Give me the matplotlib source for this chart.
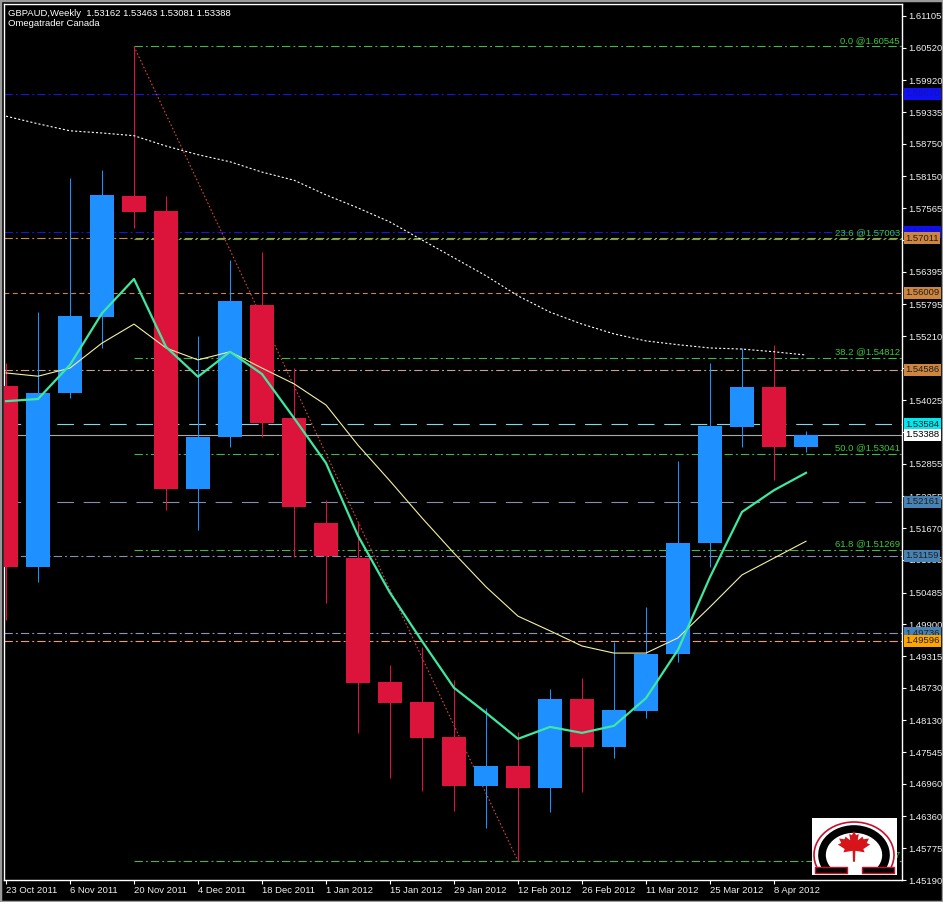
import matplotlib
matplotlib.use("Agg")
import matplotlib.pyplot as plt
import matplotlib.transforms as mtrans
from matplotlib.patches import Rectangle, Arc, Polygon

plt.rcParams['font.family'] = ['Liberation Sans', 'DejaVu Sans']
plt.rcParams['lines.scale_dashes'] = False

# weekly GBPAUD bars, 23 Oct 2011 .. 8 Apr 2012 + current week
date_labels = ["23 Oct 2011", "6 Nov 2011", "20 Nov 2011", "4 Dec 2011", "18 Dec 2011",
               "1 Jan 2012", "15 Jan 2012", "29 Jan 2012", "12 Feb 2012", "26 Feb 2012",
               "11 Mar 2012", "25 Mar 2012", "8 Apr 2012"]
opens = [1.5429, 1.5096, 1.5416, 1.5556, 1.5779, 1.5751, 1.5239, 1.5335, 1.5578, 1.5370,
         1.5177, 1.5112, 1.4884, 1.4847, 1.4782, 1.4692, 1.4729, 1.4689, 1.4852, 1.4764,
         1.4830, 1.4935, 1.5140, 1.5353, 1.5427, 1.53162]
highs = [1.5471, 1.5565, 1.5812, 1.5827, 1.60545, 1.5779, 1.5521, 1.5661, 1.5676, 1.5462,
         1.5219, 1.5178, 1.4915, 1.4948, 1.4887, 1.4836, 1.4792, 1.4871, 1.4891, 1.4957,
         1.5022, 1.5291, 1.5471, 1.5499, 1.5505, 1.53463]
lows = [1.4998, 1.5068, 1.5407, 1.5499, 1.5720, 1.5201, 1.5164, 1.5317, 1.5335, 1.5114,
        1.5029, 1.4790, 1.4707, 1.4683, 1.4646, 1.4615, 1.45537, 1.4644, 1.4681, 1.4744,
        1.4817, 1.4921, 1.5096, 1.5317, 1.5256, 1.53081]
closes = [1.5096, 1.5416, 1.5558, 1.5781, 1.5750, 1.5239, 1.5335, 1.5586, 1.5361, 1.5206,
          1.5116, 1.4882, 1.4845, 1.4781, 1.4692, 1.4729, 1.4689, 1.4852, 1.4764, 1.4832,
          1.4935, 1.5140, 1.5355, 1.5427, 1.5316, 1.53388]

ma_fast = [1.5401, 1.5405, 1.5468, 1.5563, 1.5626, 1.5501, 1.5446, 1.5492, 1.5451, 1.5370,
           1.5287, 1.5153, 1.5048, 1.4959, 1.4873, 1.4827, 1.4779, 1.4801, 1.4790, 1.4803,
           1.4854, 1.4943, 1.5077, 1.5197, 1.5237, 1.5269]
ma_mid = [1.5453, 1.5447, 1.5462, 1.5508, 1.5543, 1.5499, 1.5477, 1.5492, 1.5462, 1.5433,
          1.5394, 1.5320, 1.5254, 1.5186, 1.5121, 1.5059, 1.5005, 1.4978, 1.4950, 1.4937,
          1.4937, 1.4965, 1.5022, 1.5081, 1.5112, 1.5143]
ma_long = [1.5926, 1.5912, 1.5899, 1.5895, 1.5890, 1.5871, 1.5855, 1.5842, 1.5823, 1.5808,
           1.5781, 1.5757, 1.5731, 1.5698, 1.5665, 1.5632, 1.5595, 1.5565, 1.5543, 1.5525,
           1.5512, 1.5505, 1.5499, 1.5497, 1.5492, 1.5486]

fib_names = ["0.0", "23.6", "38.2", "50.0", "61.8", "100.0"]
fib_prices = [1.60545, 1.57003, 1.54812, 1.53041, 1.51269, 1.45537]

price_ticks = [1.61105, 1.60520, 1.59920, 1.59335, 1.58750, 1.58150, 1.57565, 1.56980,
               1.56395, 1.55795, 1.55210, 1.54625, 1.54025, 1.53440, 1.52855, 1.52255,
               1.51670, 1.51085, 1.50485, 1.49900, 1.49315, 1.48730, 1.48130, 1.47545,
               1.46960, 1.46360, 1.45775, 1.45190]
# tick labels fully covered by price boxes in the terminal
hidden_ticks = [1.56980, 1.54625, 1.53440]

level_prices = [1.59670, 1.57130, 1.57011, 1.56009, 1.54586, 1.53584, 1.53388,
                1.52161, 1.51159, 1.49736, 1.49596]
level_texts = ["1.59670", "1.57130", "1.57011", "1.56009", "1.54586", "1.53584", "1.53388",
               "1.52161", "1.51159", "1.49736", "1.49596"]

# line colour, dash pattern, label box colour, label text colour
dd = (6, 2.2, 1.4, 2.2)
level_styles = [
    ('#1515e0', dd, '#1010f0', '#1010c0'),
    ('#1515e0', dd, '#1010f0', '#1010c0'),
    ('#c98a52', dd, '#cd853f', '#202020'),
    ('#cd853f', (3.5, 2.5), '#cd853f', '#202020'),
    ('#c9a28c', dd, '#cd853f', '#202020'),
    ('#7fd8e8', (12, 7), '#00e8f0', '#202020'),
    ('#a8a8a8', None, '#ffffff', '#000000'),
    ('#8090b0', (12, 7), '#4682b4', '#202020'),
    ('#8090b0', dd, '#4682b4', '#202020'),
    ('#8898b8', dd, '#4682b4', '#202020'),
    ('#f0a050', dd, '#ffa500', '#202020'),
]

W, H = 943, 902
fig = plt.figure(figsize=(W / 100, H / 100), dpi=100, facecolor='black')
ax = fig.add_axes([4 / W, 22 / H, 898 / W, 876 / H], facecolor='black')

n = len(opens)
xs = list(range(n))
ax.set_xlim(-0.0625, 28)
ax.set_ylim(1.45208, 1.61326)

# horizontal levels
for p, (lc, dash, bc, tc), t in zip(level_prices, level_styles, level_texts):
    if dash is None:
        ax.axhline(p, color=lc, lw=0.8, zorder=1)
    else:
        ax.axhline(p, color=lc, lw=0.8, dashes=dash, zorder=1)

trans_lbl = mtrans.blended_transform_factory(ax.transAxes, ax.transData)
for p, (lc, dash, bc, tc), t in zip(level_prices, level_styles, level_texts):
    ax.text(1.0035, p, t, transform=trans_lbl, ha='left', va='center', fontsize=6.8,
            color=tc, clip_on=False, zorder=5,
            bbox=dict(boxstyle='square,pad=0.16', fc=bc, ec='none'))

# fibonacci retracement
fib_color = '#3cc83c'
for name, p in zip(fib_names, fib_prices):
    ax.plot([4, 28], [p, p], color='#44b844', lw=0.8, dashes=dd, zorder=1)
    ax.text(0.9975, p + 0.0003, "%s @%.5f" % (name, p), transform=trans_lbl,
            ha='right', va='bottom', fontsize=6.8, color=fib_color, zorder=4)
ax.plot([4, 16], [highs[4], lows[16]], color='#d04a3a', lw=0.8, dashes=(1.2, 1.5), zorder=2)

# candles
up_col, dn_col = '#1e90ff', '#dc143c'
cols = [up_col if c >= o else dn_col for o, c in zip(opens, closes)]
ax.vlines(xs, lows, highs, colors=cols, lw=0.75, zorder=2)
ax.bar(xs, [abs(c - o) for o, c in zip(opens, closes)],
       bottom=[min(o, c) for o, c in zip(opens, closes)],
       width=0.77, color=cols, zorder=3)

# moving averages
ax.plot(xs, ma_long, color='white', lw=0.8, dashes=(1.5, 1.5), zorder=2)
ax.plot(xs, ma_mid, color='#f5f0a0', lw=0.8, zorder=3)
ax.plot(xs, ma_fast, color='#3ee8a0', lw=1.6, zorder=4)

# axes styling
for s in ax.spines.values():
    s.set_color('white')
    s.set_linewidth(1.0)
ax.yaxis.tick_right()
ax.set_yticks(price_ticks)
ax.set_yticklabels(["" if v in hidden_ticks else "%.5f" % v for v in price_ticks])
ax.tick_params(axis='y', colors='white', labelcolor='#f0f0f0', labelsize=6.8,
               length=3, width=0.8, pad=1.5, direction='out')
ax.set_xticks(xs[0:25:2])
ax.set_xticklabels(date_labels)
ax.tick_params(axis='x', colors='white', labelcolor='#f0f0f0', labelsize=6.8,
               length=3, width=0.8, pad=1.5, direction='out')
for lbl in ax.get_xticklabels():
    lbl.set_ha('left')

fig.text(8 / W, 1 - 16 / H, "GBPAUD,Weekly  1.53162 1.53463 1.53081 1.53388",
         color='white', fontsize=6.8, va='baseline', ha='left')
fig.text(8 / W, 1 - 26 / H, "Omegatrader Canada", color='white', fontsize=6.8,
         va='baseline', ha='left')

# window frame
fig.patches.append(Rectangle((0, 0), 1, 1, transform=fig.transFigure, fill=False,
                             ec='#9a9a9a', lw=2.5))

# logo
lg = fig.add_axes([812 / W, 1 - 875 / H, 85 / W, 57 / H])
lg.set_xlim(0, 85)
lg.set_ylim(0, 57)
lg.set_facecolor('white')
lg.set_xticks([])
lg.set_yticks([])
for s in lg.spines.values():
    s.set_visible(False)
lg.add_patch(Arc((42, 20), 80, 66, theta1=-22, theta2=202, color='#c8102e', lw=1.2))
lg.add_patch(Arc((42, 20), 64, 52, theta1=-30, theta2=210, color='black', lw=5.5))
lg.add_patch(Rectangle((3, 2), 32, 6, fc='black', ec='#c8102e', lw=1.0))
lg.add_patch(Rectangle((50, 2), 32, 6, fc='black', ec='#c8102e', lw=1.0))
leaf = [(0, 1), (0.12, 0.72), (0.28, 0.8), (0.22, 0.38), (0.5, 0.62), (0.56, 0.45),
        (0.88, 0.5), (0.75, 0.2), (0.95, 0.1), (0.55, -0.2), (0.62, -0.42), (0.08, -0.32),
        (0.06, -1.05), (-0.06, -1.05), (-0.08, -0.32), (-0.62, -0.42), (-0.55, -0.2),
        (-0.95, 0.1), (-0.75, 0.2), (-0.88, 0.5), (-0.56, 0.45), (-0.5, 0.62),
        (-0.22, 0.38), (-0.28, 0.8), (-0.12, 0.72)]
lg.add_patch(Polygon([(42 + 17 * a, 29 + 15 * b) for a, b in leaf], closed=True,
                     fc='#d7141a', ec='none'))

fig.savefig("out.png", dpi=100, facecolor='black')
